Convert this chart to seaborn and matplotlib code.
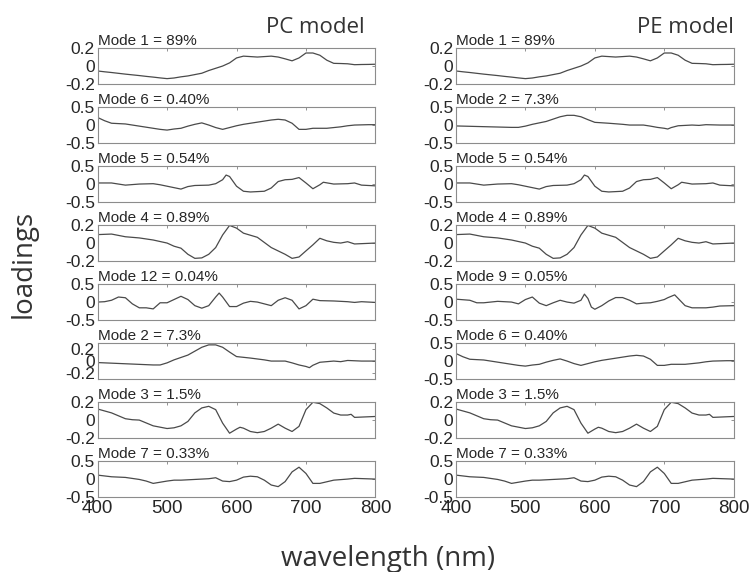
import seaborn as sns
import matplotlib.pyplot as plt
import pandas as pd

# loadings (wavelength in nm, loading value)
wl_m1 = [400, 410, 420, 430, 440, 450, 460, 470, 480, 490, 500, 510, 520, 530, 540, 550, 560, 570, 580, 590,
         600, 610, 620, 630, 640, 650, 660, 670, 680, 690, 700, 710, 720, 730, 740, 750, 760, 770, 780, 790, 800]
m1 = [-0.055, -0.064, -0.072, -0.081, -0.09, -0.098, -0.106, -0.115, -0.123, -0.132, -0.14, -0.133, -0.12, -0.11,
      -0.095, -0.08, -0.05, -0.025, 0.0, 0.035, 0.09, 0.11, 0.105, 0.10, 0.105, 0.11, 0.10, 0.08, 0.058, 0.09,
      0.145, 0.145, 0.12, 0.065, 0.03, 0.028, 0.025, 0.015, 0.017, 0.018, 0.02]

wl_m6 = [400, 410, 420, 430, 440, 450, 460, 470, 480, 490, 500, 510, 520, 530, 540, 550, 560, 570, 580, 590,
         600, 610, 620, 630, 640, 650, 660, 670, 680, 690, 700, 710, 720, 730, 740, 750, 760, 770, 780, 790, 800]
m6 = [0.21, 0.12, 0.05, 0.04, 0.03, 0.0, -0.03, -0.06, -0.09, -0.12, -0.14, -0.11, -0.09, -0.03, 0.02, 0.06,
      0.0, -0.07, -0.12, -0.07, -0.02, 0.02, 0.05, 0.08, 0.11, 0.14, 0.16, 0.14, 0.05, -0.12, -0.12, -0.09,
      -0.09, -0.09, -0.07, -0.05, -0.02, 0.0, 0.005, 0.01, 0.01]

wl_m5 = [400, 420, 440, 460, 480, 490, 500, 510, 520, 530, 540, 560, 570, 580, 585, 590, 600, 610, 620, 640,
         650, 660, 670, 680, 690, 700, 710, 720, 725, 740, 760, 770, 780, 800]
m5 = [0.03, 0.03, -0.03, 0.0, 0.01, -0.02, -0.06, -0.1, -0.14, -0.07, -0.04, -0.03, 0.01, 0.12, 0.25, 0.21,
      -0.06, -0.2, -0.22, -0.2, -0.11, 0.07, 0.12, 0.13, 0.18, 0.03, -0.13, -0.02, 0.05, 0.0, 0.01, 0.03,
      -0.03, -0.05]

wl_m4 = [400, 420, 440, 460, 480, 500, 510, 520, 530, 540, 550, 560, 570, 580, 590, 600, 610, 630, 650, 670,
         680, 690, 700, 710, 720, 730, 740, 750, 760, 770, 800]
m4 = [0.094, 0.1, 0.07, 0.057, 0.034, 0.0, -0.035, -0.057, -0.125, -0.17, -0.165, -0.125, -0.05, 0.09, 0.196,
      0.166, 0.11, 0.064, -0.05, -0.125, -0.17, -0.155, -0.087, -0.02, 0.053, 0.025, 0.008, 0.0, 0.015, -0.01, 0.0]

wl_m12 = [400, 410, 420, 430, 440, 450, 460, 470, 480, 490, 500, 510, 520, 530, 540, 550, 560, 570, 575, 580,
          590, 600, 610, 620, 630, 650, 660, 670, 680, 690, 700, 710, 720, 740, 760, 770, 780, 800]
m12 = [0.0, 0.01, 0.05, 0.14, 0.12, -0.05, -0.16, -0.16, -0.19, -0.02, -0.02, 0.07, 0.16, 0.07, -0.1, -0.17,
       -0.1, 0.14, 0.25, 0.14, -0.125, -0.125, -0.03, 0.02, 0.0, -0.1, 0.05, 0.12, 0.05, -0.19, -0.1, 0.08,
       0.04, 0.03, 0.01, -0.01, 0.01, -0.01]

wl_m2 = [400, 450, 480, 490, 500, 510, 520, 530, 540, 550, 560, 570, 580, 590, 600, 620, 640, 650, 670, 680,
         690, 700, 705, 710, 720, 740, 750, 760, 780, 800]
m2 = [-0.025, -0.05, -0.065, -0.065, -0.03, 0.02, 0.06, 0.1, 0.165, 0.23, 0.27, 0.27, 0.23, 0.15, 0.075, 0.05,
      0.02, 0.0, 0.0, -0.03, -0.065, -0.09, -0.11, -0.07, -0.02, 0.0, -0.01, 0.01, 0.0, 0.0]

wl_m3 = [400, 420, 440, 450, 460, 480, 500, 510, 520, 530, 540, 550, 560, 570, 580, 590, 600, 605, 610, 620,
         630, 640, 650, 660, 670, 680, 690, 700, 710, 720, 730, 740, 750, 760, 765, 770, 800]
m3 = [0.123, 0.08, 0.015, 0.004, 0.0, -0.064, -0.094, -0.086, -0.064, -0.015, 0.08, 0.135, 0.153, 0.116,
      -0.034, -0.146, -0.1, -0.08, -0.09, -0.127, -0.14, -0.127, -0.09, -0.045, -0.09, -0.127, -0.07, 0.116,
      0.198, 0.183, 0.135, 0.078, 0.056, 0.056, 0.064, 0.03, 0.04]

wl_m7 = [400, 420, 440, 460, 470, 480, 500, 510, 520, 540, 560, 570, 580, 590, 600, 610, 620, 630, 640, 650,
         660, 670, 680, 690, 700, 710, 720, 730, 740, 760, 770, 800]
m7 = [0.11, 0.064, 0.046, -0.01, -0.055, -0.12, -0.055, -0.03, -0.03, -0.01, 0.01, 0.037, -0.055, -0.07, -0.03,
      0.055, 0.08, 0.064, -0.03, -0.165, -0.21, -0.07, 0.2, 0.33, 0.156, -0.12, -0.12, -0.075, -0.03, 0.0,
      0.02, 0.0]

wl_m9 = [400, 420, 430, 440, 460, 480, 490, 500, 510, 520, 530, 540, 550, 560, 570, 580, 585, 590, 595, 600,
         610, 620, 630, 640, 650, 660, 670, 680, 690, 700, 705, 710, 715, 720, 730, 740, 760, 770, 780, 800]
m9 = [0.08, 0.05, -0.02, -0.02, 0.02, 0.0, -0.05, 0.07, 0.14, -0.03, -0.1, -0.02, 0.05, 0.0, -0.03, 0.05, 0.22,
      0.1, -0.14, -0.2, -0.1, 0.03, 0.125, 0.125, 0.05, -0.05, -0.03, -0.02, 0.02, 0.07, 0.12, 0.16, 0.2, 0.1,
      -0.1, -0.16, -0.16, -0.14, -0.11, -0.1]

# panel order per column: (title, wavelengths, loadings, y half-range, tick step)
pc_panels = [("Mode 1 = 89%", wl_m1, m1, 0.2, 0.2),
             ("Mode 6 = 0.40%", wl_m6, m6, 0.5, 0.5),
             ("Mode 5 = 0.54%", wl_m5, m5, 0.5, 0.5),
             ("Mode 4 = 0.89%", wl_m4, m4, 0.2, 0.2),
             ("Mode 12 = 0.04%", wl_m12, m12, 0.5, 0.5),
             ("Mode 2 = 7.3%", wl_m2, m2, 0.3, 0.2),
             ("Mode 3 = 1.5%", wl_m3, m3, 0.2, 0.2),
             ("Mode 7 = 0.33%", wl_m7, m7, 0.5, 0.5)]
pe_panels = [("Mode 1 = 89%", wl_m1, m1, 0.2, 0.2),
             ("Mode 2 = 7.3%", wl_m2, m2, 0.5, 0.5),
             ("Mode 5 = 0.54%", wl_m5, m5, 0.5, 0.5),
             ("Mode 4 = 0.89%", wl_m4, m4, 0.2, 0.2),
             ("Mode 9 = 0.05%", wl_m9, m9, 0.5, 0.5),
             ("Mode 6 = 0.40%", wl_m6, m6, 0.5, 0.5),
             ("Mode 3 = 1.5%", wl_m3, m3, 0.2, 0.2),
             ("Mode 7 = 0.33%", wl_m7, m7, 0.5, 0.5)]
x_ticks = [400, 500, 600, 700, 800]

sns.set_style("white")
plt.rcParams['font.family'] = ['Liberation Sans', 'DejaVu Sans']
plt.rcParams['axes.unicode_minus'] = False

fig, axes = plt.subplots(8, 2, figsize=(7.51, 5.72), dpi=100)
fig.subplots_adjust(left=0.130, right=0.977, top=0.916, bottom=0.131, wspace=0.29, hspace=0.64)

for col, panels in enumerate([pc_panels, pe_panels]):
    for row, (title, wl, vals, lim, step) in enumerate(panels):
        ax = axes[row, col]
        df = pd.DataFrame({"wavelength": wl, "loading": vals})
        sns.lineplot(data=df, x="wavelength", y="loading", ax=ax, color="#4a4a4a", linewidth=0.9)
        ax.set_xlim(400, 800)
        ax.set_ylim(-lim, lim)
        ax.set_xticks(x_ticks)
        ax.set_yticks([-step, 0, step])
        ax.set_yticklabels([f"{-step:g}", "0", f"{step:g}"], fontsize=12.5)
        if row == 7:
            ax.set_xticklabels([str(t) for t in x_ticks], fontsize=13.5)
        else:
            ax.set_xticklabels([])
        ax.set_xlabel("")
        ax.set_ylabel("")
        ax.set_title(title, loc="left", fontsize=11, pad=2)
        ax.tick_params(direction="in", length=2.5, width=0.6, color="#808080",
                       top=True, right=True, pad=2)
        for sp in ax.spines.values():
            sp.set_color("#8c8c8c")
            sp.set_linewidth(0.8)

big = dict(family=["Open Sans", "DejaVu Sans"], color="#333333")
fig.text(0.486, 0.942, "PC model", ha="right", va="baseline", fontsize=16, **big)
fig.text(0.977, 0.942, "PE model", ha="right", va="baseline", fontsize=16, **big)
fig.text(0.031, 0.538, "loadings", rotation=90, ha="center", va="center", fontsize=20, **big)
fig.text(0.517, 0.010, "wavelength (nm)", ha="center", va="baseline", fontsize=20, **big)

fig.savefig("out.png", dpi=100)
